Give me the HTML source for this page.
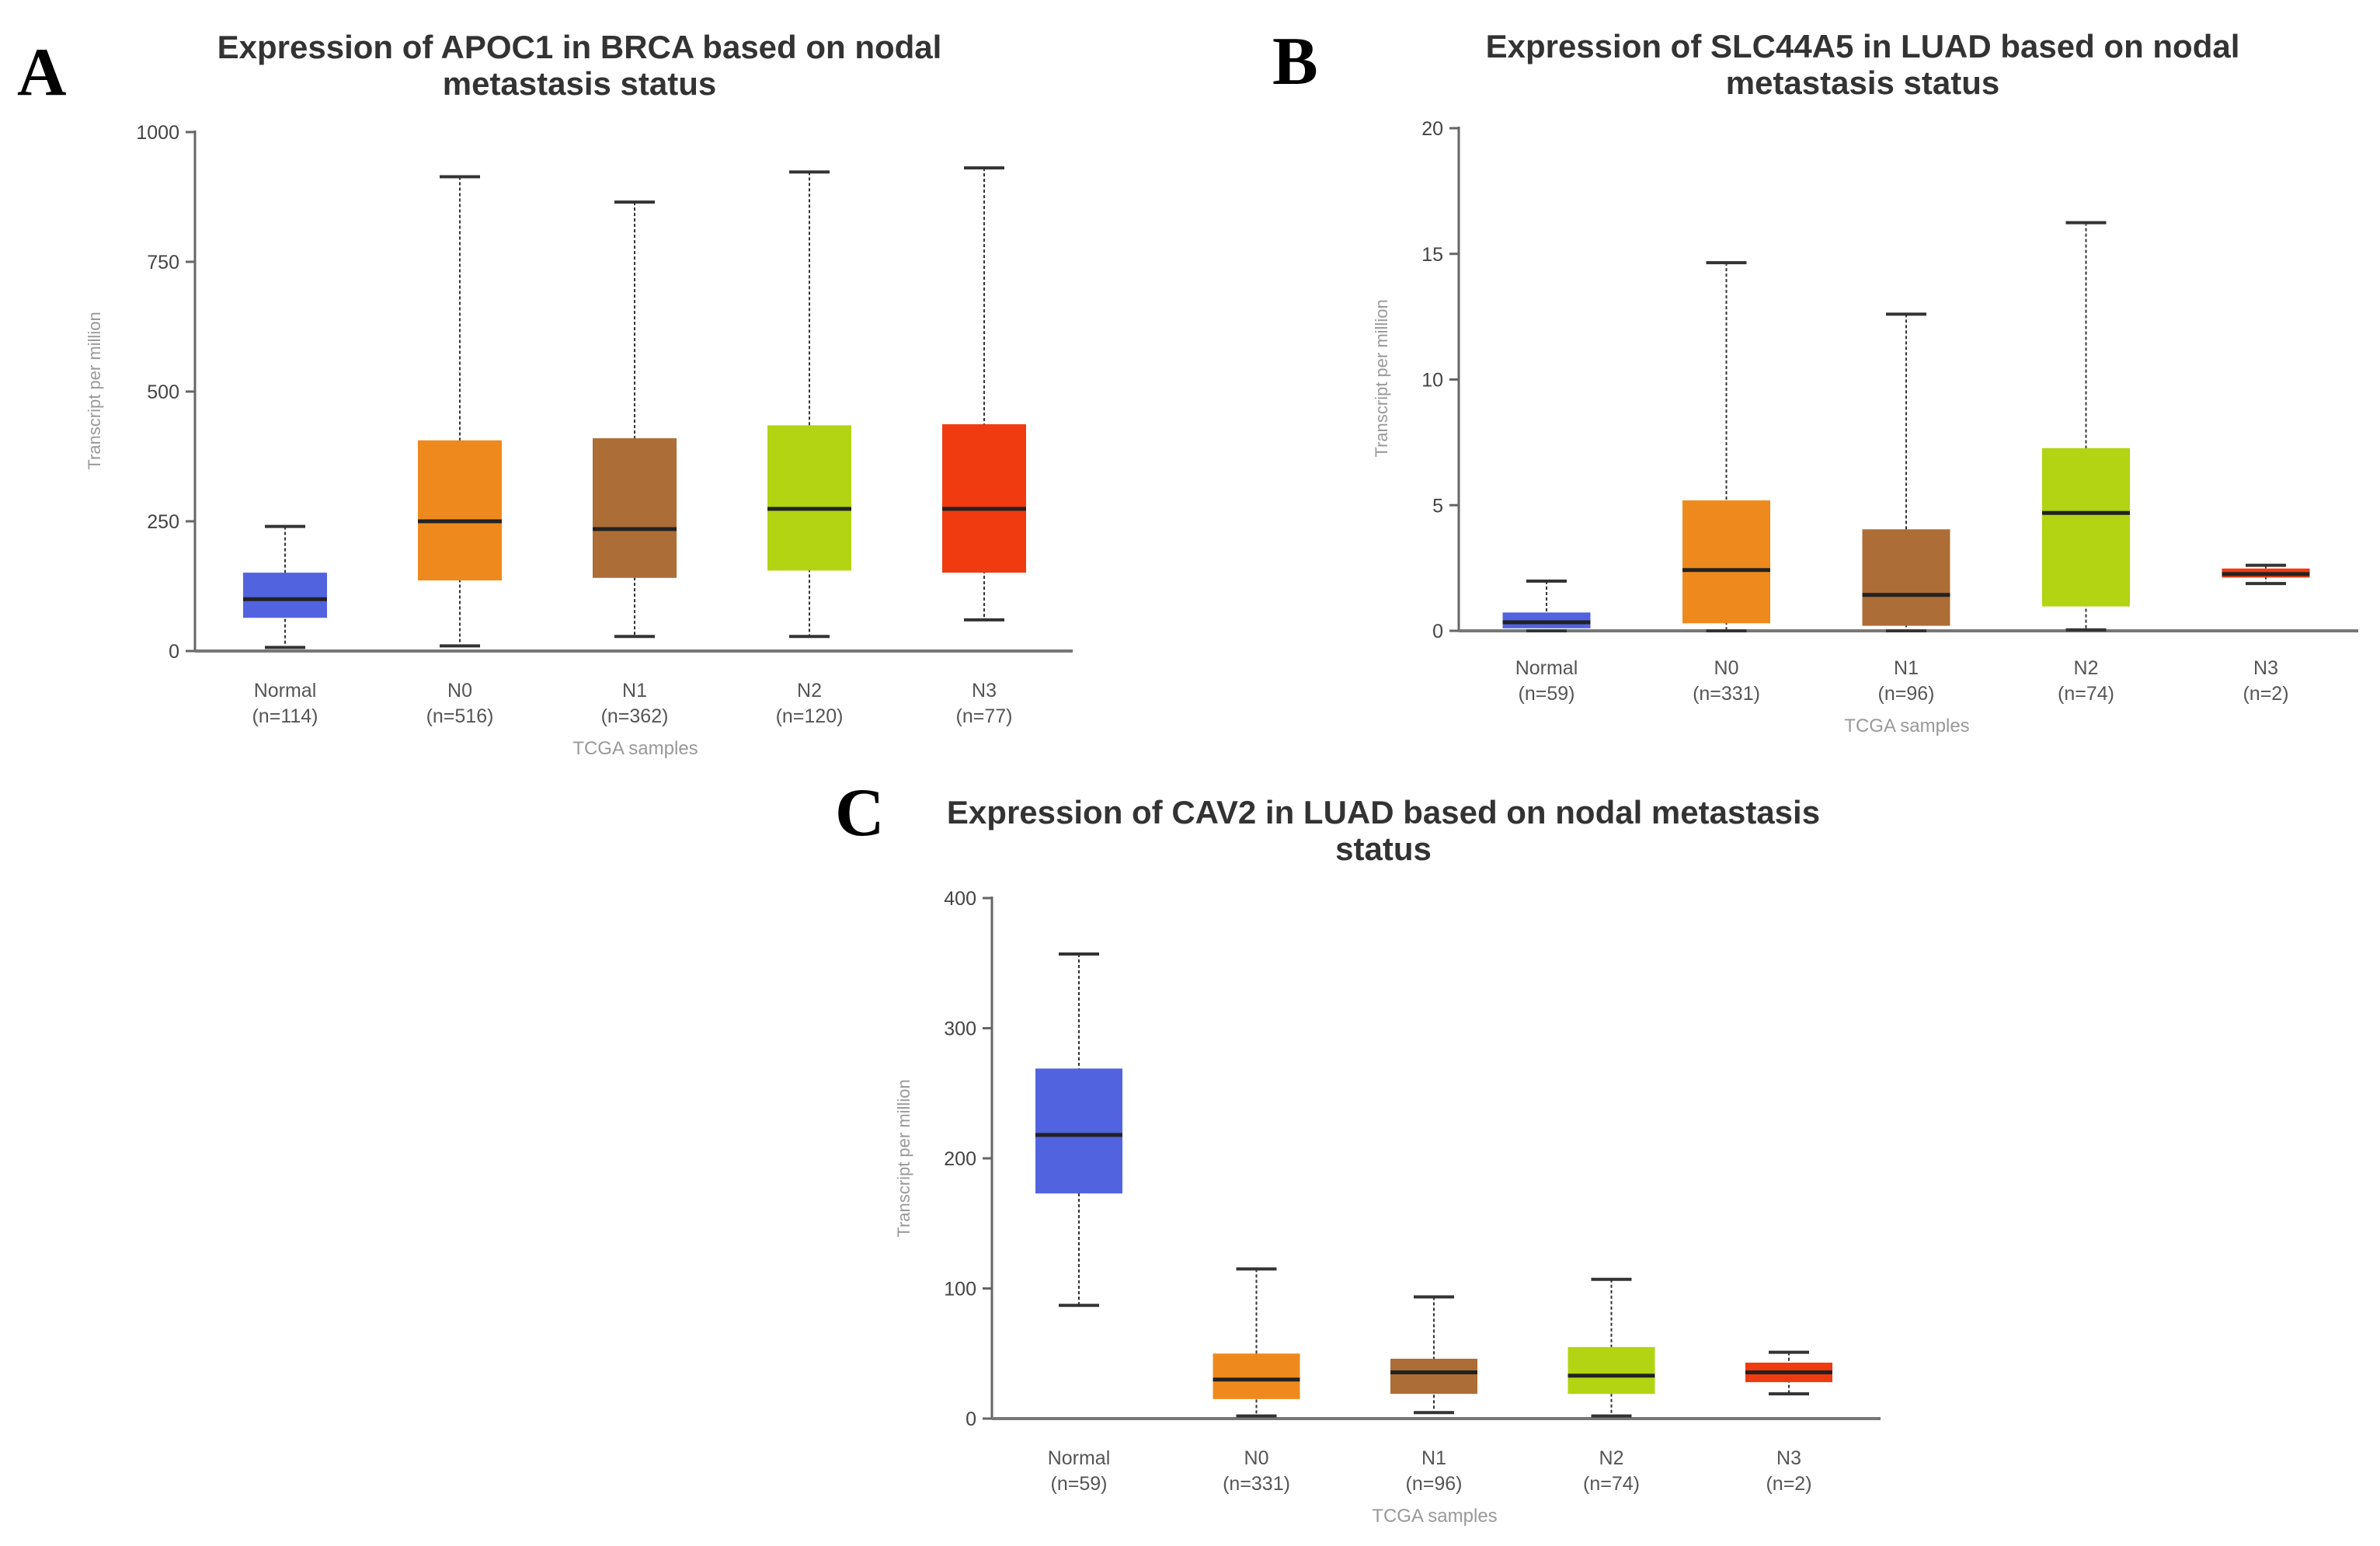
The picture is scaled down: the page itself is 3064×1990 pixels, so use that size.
<!DOCTYPE html>
<html><head><meta charset="utf-8"><style>
body{margin:0;background:#fff;width:3064px;height:1990px;overflow:hidden}
svg{display:block}
text{font-family:"Liberation Sans",sans-serif}
</style></head><body>
<svg id="fig" width="3064" height="1990" viewBox="0 0 3064 1990">
<text x="22" y="122" style="font-family:'Liberation Serif',serif" font-weight="bold" font-size="88" fill="#000">A</text>
<text x="1638" y="108" style="font-family:'Liberation Serif',serif" font-weight="bold" font-size="88" fill="#000">B</text>
<text x="1075" y="1075" style="font-family:'Liberation Serif',serif" font-weight="bold" font-size="88" fill="#000">C</text>
</svg>
<script>
const categories=["Normal","N0","N1","N2","N3"];
const colors=["#5263e0","#ee8a1d","#ad6d36","#b2d412","#f03a10"];
const countsA=["(n=114)","(n=516)","(n=362)","(n=120)","(n=77)"];
const countsB=["(n=59)","(n=331)","(n=96)","(n=74)","(n=2)"];
const countsC=["(n=59)","(n=331)","(n=96)","(n=74)","(n=2)"];
// [min, q1, median, q3, max]
const statsA=[[7,64,100,151,240],[10,136,250,406,914],[28,141,235,410,865],[28,155,274,435,923],[60,151,274,437,931]];
const statsB=[[0,0.1,0.34,0.73,1.98],[0,0.3,2.42,5.19,14.65],[0,0.2,1.43,4.04,12.6],[0.04,0.97,4.69,7.27,16.24],[1.88,2.12,2.26,2.48,2.61]];
const statsC=[[87,173,218,269,357],[2,15,30,50,115],[4.6,19,35.5,46,93.5],[2,19,33,55,107],[19,28,35.5,43,51]];
const ticksA=[0,250,500,750,1000];
const ticksB=[0,5,10,15,20];
const ticksC=[0,100,200,300,400];
const titleA=["Expression of APOC1 in BRCA based on nodal","metastasis status"];
const titleB=["Expression of SLC44A5 in LUAD based on nodal","metastasis status"];
const titleC=["Expression of CAV2 in LUAD based on nodal metastasis","status"];

const NS="http://www.w3.org/2000/svg";
const svg=document.getElementById('fig');
function mk(tag,attrs,parent){const e=document.createElementNS(NS,tag);for(const k in attrs)e.setAttribute(k,attrs[k]);(parent||svg).appendChild(e);return e;}

function panel(id,cfg,stats,ticks,counts,title){
  const g=mk('g',{});
  
  
  const ymax=ticks[ticks.length-1];
  const y=v=>cfg.y0-(v/ymax)*(cfg.y0-cfg.y1);
  const x=i=>cfg.c0+i*cfg.step;
  title.forEach((t,i)=>{
    const e=mk('text',{x:cfg.tx,y:cfg.ty+i*47,'text-anchor':'middle','font-size':42,'font-weight':'bold',fill:'#333'},g);
    e.textContent=t;
    
    
  });
  const ax=mk('line',{x1:cfg.ax,y1:cfg.y1-2,x2:cfg.ax,y2:cfg.y0,stroke:'#666','stroke-width':3},g);
  
  
  const xa=mk('line',{x1:cfg.ax,y1:cfg.y0,x2:cfg.xend,y2:cfg.y0,stroke:'#777','stroke-width':4},g);
  
  
  ticks.forEach(t=>{
    mk('line',{x1:cfg.ax-12,y1:y(t),x2:cfg.ax,y2:y(t),stroke:'#666','stroke-width':3},g);
    const e=mk('text',{x:cfg.ax-20,y:y(t)+9,'text-anchor':'end','font-size':25,fill:'#444'},g);
    e.textContent=t;
    
    
  });
  const yt=mk('text',{x:0,y:0,'text-anchor':'middle','font-size':22,fill:'#999',transform:`translate(${cfg.ytx},${cfg.yty}) rotate(-90)`},g);
  yt.textContent='Transcript per million';
  
  
  const bw=cfg.bw,cw=52;
  stats.forEach((s,i)=>{
    const cx=x(i);
    const bg=mk('g',{},g);
    
    
    mk('line',{x1:cx,y1:y(s[4]),x2:cx,y2:y(s[0]),stroke:'#333','stroke-width':2,'stroke-dasharray':'4,3'},bg);
    mk('line',{x1:cx-cw/2,y1:y(s[4]),x2:cx+cw/2,y2:y(s[4]),stroke:'#333','stroke-width':4},bg);
    mk('line',{x1:cx-cw/2,y1:y(s[0]),x2:cx+cw/2,y2:y(s[0]),stroke:'#333','stroke-width':4},bg);
    mk('rect',{x:cx-bw/2,y:y(s[3]),width:bw,height:Math.max(2,y(s[1])-y(s[3])),fill:colors[i]},bg);
    mk('line',{x1:cx-bw/2,y1:y(s[2]),x2:cx+bw/2,y2:y(s[2]),stroke:'#222','stroke-width':5},bg);
    const l1=mk('text',{x:cx,y:cfg.ly,'text-anchor':'middle','font-size':25,fill:'#555'},g);
    l1.textContent=categories[i];
    
    
    const l2=mk('text',{x:cx,y:cfg.ly+33,'text-anchor':'middle','font-size':25,fill:'#555'},g);
    l2.textContent=counts[i];
    
    
  });
  const xt=mk('text',{x:cfg.xtx,y:cfg.ly+74,'text-anchor':'middle','font-size':24,fill:'#999'},g);
  xt.textContent='TCGA samples';
  
  
}
panel('panel-a',{ax:251,y0:838,y1:170,xend:1381,c0:367,step:225,bw:108,tx:746,ty:75,ytx:129,yty:503,ly:897,xtx:818},statsA,ticksA,countsA,titleA);
panel('panel-b',{ax:1878,y0:812,y1:165,xend:3036,c0:1991,step:231.5,bw:113,tx:2398,ty:74,ytx:1786,yty:487,ly:868,xtx:2455},statsB,ticksB,countsB,titleB);
panel('panel-c',{ax:1277,y0:1826,y1:1156,xend:2421,c0:1389,step:228.5,bw:112,tx:1781,ty:1060,ytx:1171,yty:1491,ly:1885,xtx:1847},statsC,ticksC,countsC,titleC);
</script>
</body></html>
